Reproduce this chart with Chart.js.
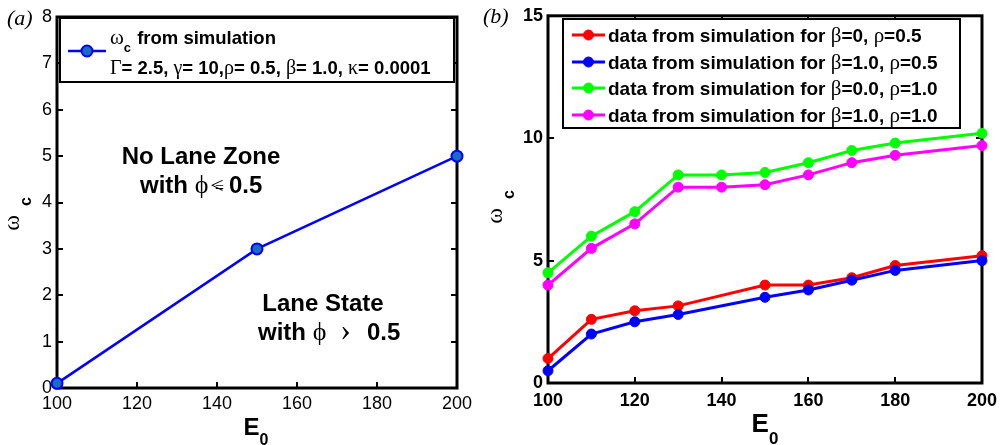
<!DOCTYPE html>
<html>
<head>
<meta charset="utf-8">
<script src="https://cdn.jsdelivr.net/npm/chart.js@4"></script>
<style>
  html, body { margin: 0; padding: 0; background: #fff; }
  #wrap { position: relative; width: 1004px; height: 445px; }
  .panel { position: absolute; top: 0; height: 445px; }
  #pa { left: 0; width: 480px; }
  #pb { left: 480px; width: 524px; }
</style>
</head>
<body>
<div id="wrap">
  <div class="panel" id="pa"><canvas id="ca"></canvas></div>
  <div class="panel" id="pb"><canvas id="cb"></canvas></div>
</div>
<script>
// --- data ---
const E0_A = [100, 150, 200];
const OMEGA_A = [0.1, 3, 5];

// red / blue series have no point at 140
const E0_B_HALF = [100, 110, 120, 130, 150, 160, 170, 180, 200];
const E0_B_FULL = [100, 110, 120, 130, 140, 150, 160, 170, 180, 200];
const OMEGA_B0_R05 = [1.0, 2.6, 2.95, 3.15, 4.0, 4.0, 4.3, 4.8, 5.2];
const OMEGA_B1_R05 = [0.5, 2.0, 2.5, 2.8, 3.5, 3.8, 4.2, 4.6, 5.0];
const OMEGA_B0_R10 = [4.5, 6.0, 7.0, 8.5, 8.5, 8.6, 9.0, 9.5, 9.8, 10.2];
const OMEGA_B1_R10 = [4.0, 5.5, 6.5, 8.0, 8.0, 8.1, 8.5, 9.0, 9.3, 9.7];

const X_TICKS = [100, 120, 140, 160, 180, 200];
const Y_TICKS_A = [0, 1, 2, 3, 4, 5, 6, 7, 8];
const Y_TICKS_B = [0, 5, 10, 15];

// --- style ---
const SANS = "'Liberation Sans', Arial, sans-serif";
const SERIF = "'Liberation Serif', 'Times New Roman', serif";
const bold = (s) => `bold ${s}px ${SANS}`;
const greek = (s) => `${s}px ${SERIF}`;

Chart.defaults.font.family = SANS;
Chart.defaults.color = "#000";

const pts = (xs, ys) => xs.map((x, i) => ({ x, y: ys[i] }));

// draws a run of text pieces (different fonts / subscript offsets)
function rich(ctx, x, y, parts, align) {
  let total = 0;
  parts.forEach((p) => {
    ctx.font = p.f;
    p.w = ctx.measureText(p.t).width + (p.gap || 0);
    total += p.w;
  });
  if (align === "center") x -= total / 2;
  ctx.textAlign = "left";
  ctx.textBaseline = "alphabetic";
  parts.forEach((p) => {
    ctx.font = p.f;
    ctx.fillText(p.t, x + (p.dx || 0), y + (p.dy || 0));
    x += p.w;
  });
}

function richRotated(ctx, cx, cy, parts) {
  ctx.save();
  ctx.translate(cx, cy);
  ctx.rotate(-Math.PI / 2);
  rich(ctx, 0, 0, parts, "center");
  ctx.restore();
}

// MATLAB-like box with inward ticks on all four sides
const frame = {
  id: "frame",
  beforeDatasetsDraw(chart) {
    const { ctx, chartArea: a, scales } = chart;
    const len = 6;
    ctx.save();
    ctx.strokeStyle = "#000";
    ctx.lineWidth = 2;
    ctx.beginPath();
    scales.x.ticks.forEach((t) => {
      const px = Math.round(scales.x.getPixelForValue(t.value));
      ctx.moveTo(px, a.bottom); ctx.lineTo(px, a.bottom - len);
      ctx.moveTo(px, a.top); ctx.lineTo(px, a.top + len);
    });
    scales.y.ticks.forEach((t) => {
      const py = Math.round(scales.y.getPixelForValue(t.value));
      ctx.moveTo(a.left, py); ctx.lineTo(a.left + len, py);
      ctx.moveTo(a.right, py); ctx.lineTo(a.right - len, py);
    });
    ctx.stroke();
    ctx.lineWidth = 3;
    ctx.strokeRect(a.left, a.top, a.right - a.left, a.bottom - a.top);
    ctx.restore();
  },
};

function legendBox(ctx, x, y, w, h) {
  ctx.save();
  ctx.fillStyle = "#fff";
  ctx.fillRect(x, y, w, h);
  ctx.strokeStyle = "#000";
  ctx.lineWidth = 2;
  ctx.strokeRect(x, y, w, h);
  ctx.restore();
}

function legendSample(ctx, ds, x0, x1, y) {
  ctx.save();
  ctx.strokeStyle = ds.borderColor;
  ctx.lineWidth = ds.borderWidth;
  ctx.beginPath();
  ctx.moveTo(x0, y); ctx.lineTo(x1, y);
  ctx.stroke();
  ctx.beginPath();
  ctx.arc((x0 + x1) / 2, y, ds.pointRadius, 0, Math.PI * 2);
  ctx.fillStyle = ds.pointBackgroundColor;
  ctx.fill();
  ctx.lineWidth = ds.pointBorderWidth;
  ctx.strokeStyle = ds.pointBorderColor;
  ctx.stroke();
  ctx.restore();
}

function axisOpts(min, max, ticks, font, pad, extra) {
  return Object.assign({
    type: "linear",
    min, max,
    afterBuildTicks: (s) => { s.ticks = ticks.map((v) => ({ value: v })); },
    grid: { display: false, drawTicks: false },
    border: { display: false },
    ticks: { color: "#000", font, padding: pad, autoSkip: false, maxRotation: 0 },
  }, extra);
}

// ---------- panel (a) ----------
const overlayA = {
  id: "overlayA",
  afterDatasetsDraw(chart) {
    const ctx = chart.ctx;
    const ds = chart.data.datasets[0];
    ctx.save();
    ctx.fillStyle = "#000";

    legendBox(ctx, 60, 18, 394, 64);
    legendSample(ctx, ds, 68, 106, 51);
    rich(ctx, 110, 44, [
      { t: "ω", f: greek(21) },
      { t: "c", f: bold(13), dy: 8, gap: 1 },
      { t: " from simulation", f: bold(18.5) },
    ]);
    rich(ctx, 110, 74, [
      { t: "Γ", f: greek(20) }, { t: "= 2.5, ", f: bold(18.5) },
      { t: "γ", f: greek(20) }, { t: "= 10,", f: bold(18.5) },
      { t: "ρ", f: greek(20) }, { t: "= 0.5, ", f: bold(18.5) },
      { t: "β", f: greek(20) }, { t: "= 1.0, ", f: bold(18.5) },
      { t: "κ", f: greek(20) }, { t: "= 0.0001", f: bold(18.5) },
    ]);

    // region annotations
    rich(ctx, 201, 164, [{ t: "No Lane Zone", f: bold(24) }], "center");
    rich(ctx, 140, 193, [
      { t: "with ", f: bold(24) },
      { t: "ϕ", f: greek(26), gap: 2 },
      { t: "<", f: greek(24), gap: -9 },
      { t: "=", f: greek(16), gap: 5 },
      { t: "0.5", f: bold(24) },
    ]);
    rich(ctx, 323, 311, [{ t: "Lane State", f: bold(24) }], "center");
    rich(ctx, 258, 340, [
      { t: "with ", f: bold(24) },
      { t: "ϕ", f: greek(26), gap: 14 },
      { t: "›", f: greek(32), gap: 16 },
      { t: "0.5", f: bold(24) },
    ]);

    // axis titles
    rich(ctx, 256, 435, [
      { t: "E", f: bold(24) },
      { t: "0", f: bold(16), dy: 10 },
    ], "center");
    richRotated(ctx, 19, 214, [
      { t: "ω", f: greek(24), gap: 9 },
      { t: "c", f: bold(16), dy: 12 },
    ]);

    ctx.font = `italic 22px ${SERIF}`;
    ctx.textAlign = "left";
    ctx.fillText("(a)", 7, 25);
    ctx.restore();
  },
};

new Chart(document.getElementById("ca"), {
  type: "line",
  data: {
    datasets: [{
      label: "ωc from simulation",
      data: pts(E0_A, OMEGA_A),
      borderColor: "#0000ff",
      borderWidth: 2.5,
      pointRadius: 5.5,
      pointBackgroundColor: "#1a6cc0",
      pointBorderColor: "#0000ff",
      pointBorderWidth: 2,
      tension: 0,
      clip: false,
    }],
  },
  options: {
    responsive: true,
    maintainAspectRatio: false,
    animation: false,
    events: [],
    layout: { padding: { left: 0, top: 17, right: 23, bottom: 0 } },
    scales: {
      x: axisOpts(100, 200, X_TICKS, { size: 18, family: SANS }, 5,
        { afterFit: (s) => { s.height = 57; } }),
      y: axisOpts(0, 8, Y_TICKS_A, { size: 18, family: SANS }, 5,
        { afterFit: (s) => { s.width = 57; } }),
    },
    plugins: { legend: { display: false }, tooltip: { enabled: false } },
  },
  plugins: [frame, overlayA],
});

// ---------- panel (b) ----------
const OFF = 480; // page x of panel (b) canvas
const LEGEND_B = [
  ["=0, ", "=0.5"],
  ["=1.0, ", "=0.5"],
  ["=0.0, ", "=1.0"],
  ["=1.0, ", "=1.0"],
];

const overlayB = {
  id: "overlayB",
  afterDatasetsDraw(chart) {
    const ctx = chart.ctx;
    ctx.save();
    ctx.fillStyle = "#000";

    legendBox(ctx, 563 - OFF, 19, 397, 109);
    const rows = [35, 62, 88, 115];
    chart.data.datasets.forEach((ds, i) => {
      legendSample(ctx, ds, 572 - OFF, 605 - OFF, rows[i]);
      rich(ctx, 608 - OFF, rows[i] + 7, [
        { t: "data from simulation for ", f: bold(19) },
        { t: "β", f: greek(21) }, { t: LEGEND_B[i][0], f: bold(19) },
        { t: "ρ", f: greek(21) }, { t: LEGEND_B[i][1], f: bold(19) },
      ]);
    });

    rich(ctx, 765 - OFF, 432, [
      { t: "E", f: bold(26) },
      { t: "0", f: bold(17), dy: 12 },
    ], "center");
    richRotated(ctx, 502 - OFF, 207, [
      { t: "ω", f: greek(24), gap: 9 },
      { t: "c", f: bold(16), dy: 12 },
    ]);

    ctx.font = `italic 22px ${SERIF}`;
    ctx.textAlign = "left";
    ctx.fillText("(b)", 483 - OFF, 23);
    ctx.restore();
  },
};

function seriesB(label, xs, ys, color, order) {
  return {
    label,
    data: pts(xs, ys),
    borderColor: color,
    borderWidth: 3,
    pointRadius: 5,
    pointBackgroundColor: color,
    pointBorderColor: color,
    pointBorderWidth: 1,
    tension: 0,
    clip: false,
    order,
  };
}

new Chart(document.getElementById("cb"), {
  type: "line",
  data: {
    datasets: [
      seriesB("β=0, ρ=0.5", E0_B_HALF, OMEGA_B0_R05, "#ff0000", 3),
      seriesB("β=1.0, ρ=0.5", E0_B_HALF, OMEGA_B1_R05, "#0000ff", 2),
      seriesB("β=0.0, ρ=1.0", E0_B_FULL, OMEGA_B0_R10, "#00ff00", 1),
      seriesB("β=1.0, ρ=1.0", E0_B_FULL, OMEGA_B1_R10, "#ff00ff", 0),
    ],
  },
  options: {
    responsive: true,
    maintainAspectRatio: false,
    animation: false,
    events: [],
    layout: { padding: { left: 0, top: 15, right: 21, bottom: 0 } },
    scales: {
      x: axisOpts(100, 200, X_TICKS, { size: 18, weight: "bold", family: SANS }, 7,
        { afterFit: (s) => { s.height = 62; } }),
      y: axisOpts(0, 15, Y_TICKS_B, { size: 18, weight: "bold", family: SANS }, 5,
        { afterFit: (s) => { s.width = 68; } }),
    },
    plugins: { legend: { display: false }, tooltip: { enabled: false } },
  },
  plugins: [frame, overlayB],
});
</script>
</body>
</html>
